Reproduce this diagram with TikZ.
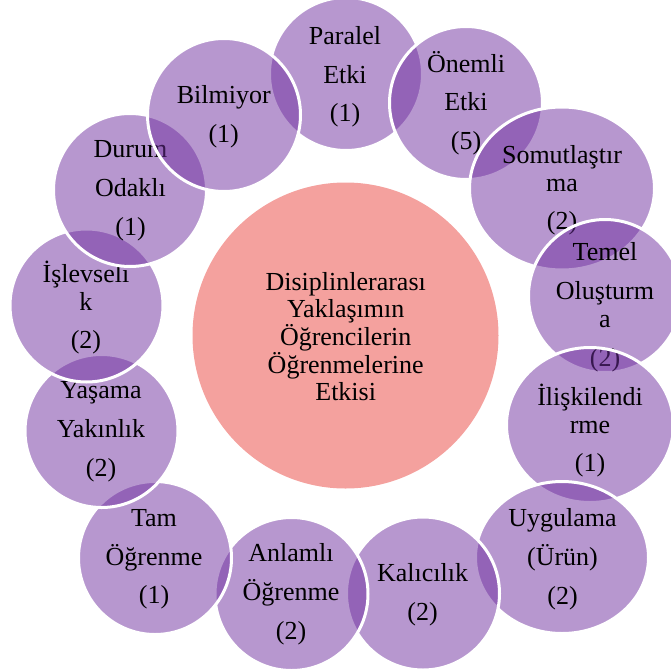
\documentclass[tikz,border=0pt]{standalone}
\usepackage{fontspec}
\setmainfont{Liberation Serif}
\usetikzlibrary{shapes.geometric}

\definecolor{bubblepurple}{HTML}{7030A0}
\definecolor{corepink}{HTML}{F4A19E}

% 26pt type with fixed line spacing, no extra lineskip for tall accents
\newcommand\bubblefont{\fontsize{26}{27.7}\selectfont
  \lineskiplimit=-100pt\relax\lineskip=0pt\relax}

\tikzset{
  bubble/.style={circle, inner sep=0pt, minimum size=153pt,
    fill=bubblepurple, fill opacity=0.5, draw=white, line width=3pt},
  oval/.style={ellipse, inner sep=0pt,
    fill=bubblepurple, fill opacity=0.5, draw=white, line width=3pt},
  core/.style={circle, inner sep=0pt, minimum size=306pt, fill=corepink},
  bubbletext/.style={align=center, inner sep=0pt, text=black,
    font=\bubblefont},
}

\begin{document}
\begin{tikzpicture}[x=1pt, y=-1pt]
  \useasboundingbox (0,0) rectangle (671,672);
  \clip (0,0) rectangle (671,672);

  % central topic
  \node[core] (core) at (345.5,335.5) {};
  \node[bubbletext] (coreT) at (345.7,340)
    {\strut Disiplinlerarası\\Yaklaşımın\\Öğrencilerin\\Öğrenmelerine\\\strut Etkisi};

  % satellites, drawn in stacking order
  \node[bubble] (paralel) at (346,74) {};
  \node[bubbletext] (paralelT) at (345,77.5)
    {\strut Paralel\\[11pt]Etki\\[11pt]\strut(1)};

  \node[bubble] (onemli) at (466,103) {};
  \node[bubbletext] (onemliT) at (466,104.5)
    {\strut Önemli\\[11pt]Etki\\[11pt]\strut(5)};

  \node[oval, minimum width=185pt, minimum height=163pt] (somut) at (562,188.5) {};
  \node[bubbletext] (somutT) at (562,191)
    {\strut Somutlaştır\\ma\\[11pt]\strut(2)};

  \node[bubble] (temel) at (605,296) {};
  \node[bubbletext] (temelT) at (605,308)
    {\strut Temel\\[11pt]Oluşturm\\a\\[11pt]\strut(2)};

  \node[oval, minimum width=167pt, minimum height=155pt] (iliski) at (590,425) {};
  \node[bubbletext] (iliskiT) at (590,432)
    {\strut İlişkilendi\\rme\\[11pt]\strut(1)};

  \node[oval, minimum width=173pt, minimum height=152pt] (uygulama) at (562,557.5) {};
  \node[bubbletext] (uygulamaT) at (562.5,560)
    {\strut Uygulama\\[11pt](Ürün)\\[11pt]\strut(2)};

  \node[bubble] (kalici) at (423,593.5) {};
  \node[bubbletext] (kaliciT) at (422.5,595.5)
    {\strut Kalıcılık\\[11pt]\strut(2)};

  \node[bubble] (anlamli) at (291.5,594) {};
  \node[bubbletext] (anlamliT) at (291,595)
    {\strut Anlamlı\\[11pt]Öğrenme\\[11pt]\strut(2)};

  \node[bubble] (tam) at (155,558) {};
  \node[bubbletext] (tamT) at (154,559.5)
    {\strut Tam\\[11pt]Öğrenme\\[11pt]\strut(1)};

  \node[bubble] (yasama) at (101.5,431) {};
  \node[bubbletext] (yasamaT) at (101,432)
    {\strut Yaşama\\[11pt]Yakınlık\\[11pt]\strut(2)};

  \node[bubble] (islev) at (86.5,305.5) {};
  \node[bubbletext] (islevT) at (86,309)
    {\strut İşlevseli\\k\\[11pt]\strut(2)};

  \node[bubble] (durum) at (130,190) {};
  \node[bubbletext] (durumT) at (130.5,191)
    {\strut Durum\\[11pt]Odaklı\\[11pt]\strut(1)};

  \node[bubble] (bilmiyor) at (224,115) {};
  \node[bubbletext] (bilmiyorT) at (223.7,117.5)
    {\strut Bilmiyor\\[11pt]\strut(1)};
\end{tikzpicture}
\end{document}
